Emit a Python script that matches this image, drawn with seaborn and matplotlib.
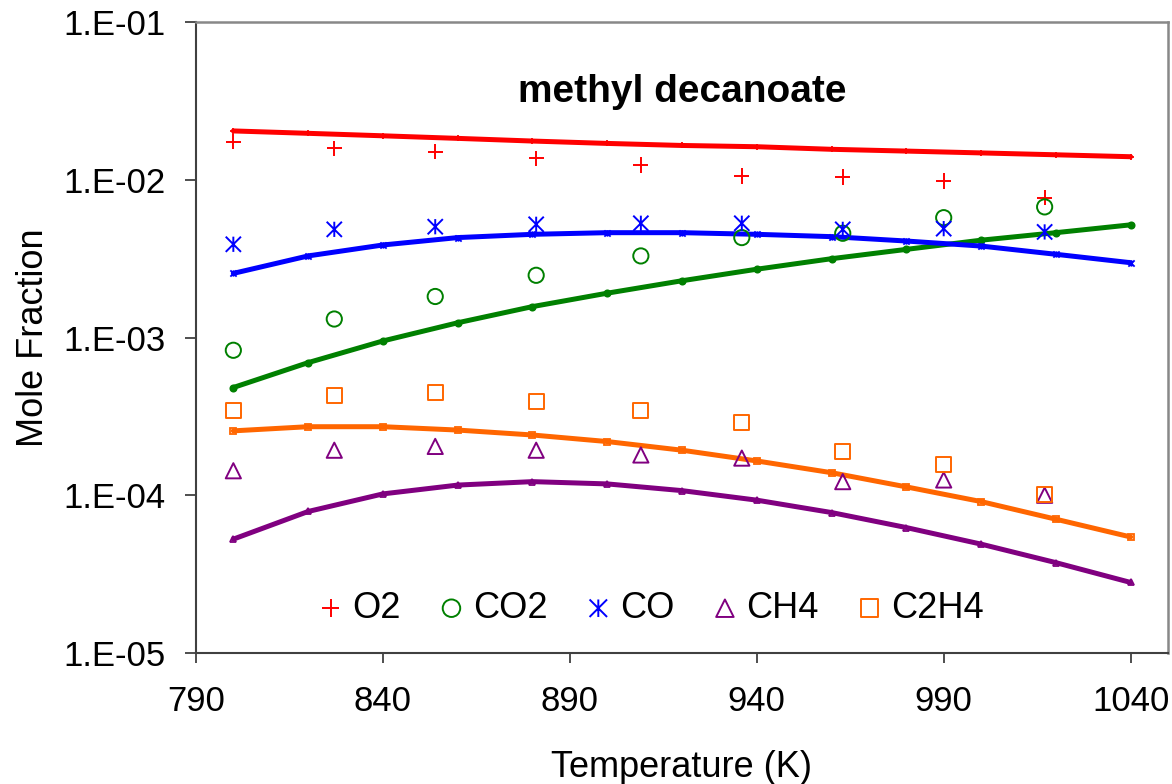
import numpy as np
import pandas as pd
import matplotlib
matplotlib.use("Agg")
import matplotlib.pyplot as plt
from matplotlib.path import Path
from matplotlib.ticker import FixedLocator, FuncFormatter, NullLocator
import seaborn as sns

# ---- model predictions (lines), every 20 K ----
model_T = [800, 820, 840, 860, 880, 900, 920, 940, 960, 980, 1000, 1020, 1040]
model_O2 = [0.0204, 0.0197, 0.0190, 0.0183, 0.0176, 0.0170, 0.0165, 0.0162,
            0.0156, 0.0152, 0.0148, 0.0144, 0.0140]
model_CO2 = [0.000482, 0.000693, 0.000951, 0.00124, 0.00157, 0.00191, 0.00229,
             0.00271, 0.00316, 0.00362, 0.00414, 0.00462, 0.00518]
model_CO = [0.00255, 0.00329, 0.00386, 0.00430, 0.00451, 0.00462, 0.00462,
            0.00451, 0.00436, 0.00409, 0.00380, 0.00337, 0.00298]
model_CH4 = [5.27e-05, 7.89e-05, 1.02e-04, 1.16e-04, 1.22e-04, 1.18e-04, 1.07e-04,
             9.31e-05, 7.77e-05, 6.24e-05, 4.90e-05, 3.74e-05, 2.80e-05]
model_C2H4 = [2.56e-04, 2.72e-04, 2.72e-04, 2.59e-04, 2.41e-04, 2.19e-04, 1.93e-04,
              1.65e-04, 1.39e-04, 1.13e-04, 9.12e-05, 7.05e-05, 5.44e-05]

# ---- measured mole fractions (symbols) ----
exp_T = [800, 827, 854, 881, 909, 936, 963, 990, 1017]
exp_O2 = [0.0174, 0.0158, 0.0151, 0.0137, 0.0124, 0.01057, 0.0104, 0.00983, 0.00771]
exp_CO2 = [0.000830, 0.00131, 0.00182, 0.00248, 0.00329, 0.00430, 0.00458,
           0.00575, 0.00673]
exp_CO = [0.00390, 0.00485, 0.00504, 0.00522, 0.00530, 0.00530, 0.00485,
          0.00490, 0.00467]
exp_CH4 = [1.43e-04, 1.93e-04, 2.04e-04, 1.93e-04, 1.80e-04, 1.72e-04, 1.22e-04,
           1.25e-04, 1.00e-04]
exp_C2H4 = [3.46e-04, 4.31e-04, 4.48e-04, 3.93e-04, 3.43e-04, 2.89e-04, 1.89e-04,
            1.57e-04, 1.01e-04]

species = ["O2", "CO2", "CO", "CH4", "C2H4"]
colors = {"O2": "#FF0000", "CO2": "#008000", "CO": "#0000FF",
          "CH4": "#800080", "C2H4": "#FF6600"}

# Excel-style star: an X crossed by a vertical bar
star = Path([(0, -1), (0, 1), (-1, -1), (1, 1), (-1, 1), (1, -1)],
            [Path.MOVETO, Path.LINETO, Path.MOVETO, Path.LINETO, Path.MOVETO, Path.LINETO])
markers = {"O2": "+", "CO2": "o", "CO": star, "CH4": "^", "C2H4": "s"}

model = pd.DataFrame({"T": model_T, "O2": model_O2, "CO2": model_CO2, "CO": model_CO,
                      "CH4": model_CH4, "C2H4": model_C2H4})
meas = pd.DataFrame({"T": exp_T, "O2": exp_O2, "CO2": exp_CO2, "CO": exp_CO,
                     "CH4": exp_CH4, "C2H4": exp_C2H4})

sns.set_style("white")
plt.rcParams["font.family"] = ["Liberation Sans", "DejaVu Sans"]
plt.rcParams["text.color"] = "black"
plt.rcParams["axes.labelcolor"] = "black"

fig, ax = plt.subplots(figsize=(11.72, 7.84), dpi=100)
fig.subplots_adjust(left=0.1672, right=0.9966, top=0.9719, bottom=0.1671)

# model curves with small point markers
for sp in species:
    mk = markers[sp]
    small_fill = colors[sp] if sp == "CO2" else "none"
    sns.lineplot(data=model, x="T", y=sp, ax=ax, color=colors[sp], linewidth=3.6,
                 marker=mk, markersize=4.5, markeredgewidth=1.3,
                 markerfacecolor=small_fill, markeredgecolor=colors[sp],
                 zorder=2, legend=False)

# measured data as open symbols
handles = []
for sp in species:
    sns.scatterplot(data=meas, x="T", y=sp, ax=ax, marker=markers[sp], s=120,
                    linewidth=1.4, zorder=3, legend=False)
    coll = ax.collections[-1]
    coll.set_facecolor("none")
    coll.set_edgecolor(colors[sp])
    coll.set_linewidth(1.4)
    coll.set_label(sp)
    handles.append(coll)

ax.set_yscale("log")
ax.set_xlim(790, 1050)
ax.set_ylim(1e-5, 1e-1)

ax.xaxis.set_major_locator(FixedLocator([790, 840, 890, 940, 990, 1040]))
ax.yaxis.set_major_locator(FixedLocator([1e-5, 1e-4, 1e-3, 1e-2, 1e-1]))
ax.yaxis.set_minor_locator(NullLocator())
ax.yaxis.set_major_formatter(
    FuncFormatter(lambda v, pos: "1.E-%02d" % int(round(-np.log10(v)))))

ax.tick_params(axis="both", which="major", labelsize=25, direction="out",
               color="#404040", width=1.3, labelcolor="black")
ax.tick_params(axis="y", length=8, pad=14, left=True)
ax.tick_params(axis="x", length=7, pad=16, bottom=True)

for side in ["left", "bottom"]:
    ax.spines[side].set_color("#404040")
    ax.spines[side].set_linewidth(1.5)
for side in ["top", "right"]:
    ax.spines[side].set_color("#888888")
    ax.spines[side].set_linewidth(1.8)

ax.set_xlabel("Temperature (K)", fontsize=26, labelpad=23)
ax.set_ylabel("Mole Fraction", fontsize=26, labelpad=9)

ax.text(0.5, 0.889, "methyl decanoate", transform=ax.transAxes, ha="center",
        va="center", fontsize=28, fontweight="bold", color="black")

ax.legend(handles=handles, labels=species, loc="center",
          bbox_to_anchor=(0.469, 0.071), ncol=5, frameon=False, fontsize=26,
          handlelength=0.6, handletextpad=0.3, columnspacing=1.1,
          markerscale=1.15, borderaxespad=0, borderpad=0)

fig.savefig("out.png", dpi=100)
